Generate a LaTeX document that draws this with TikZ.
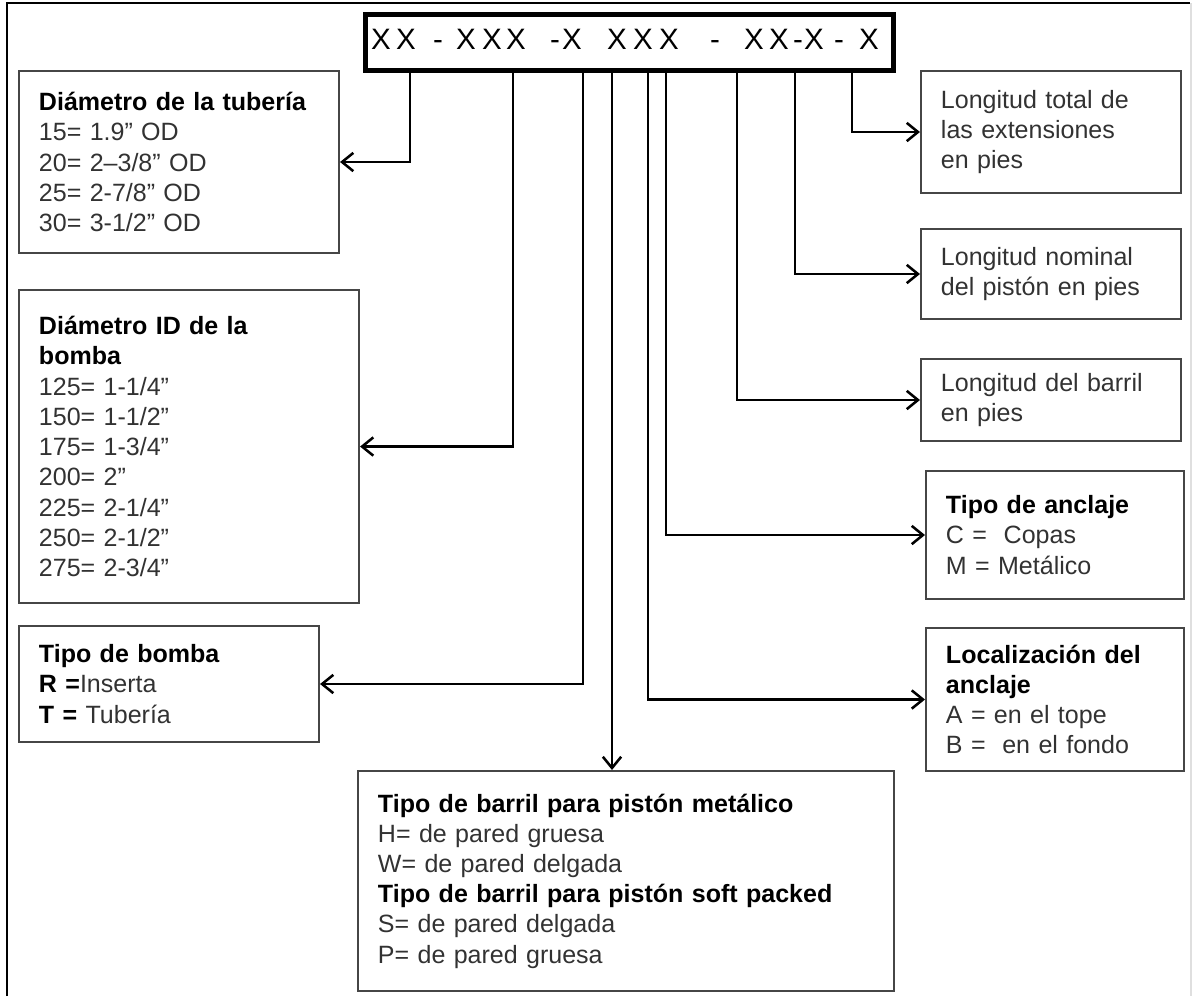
\documentclass[tikz,border=0pt]{standalone}
\usepackage{fontspec}
\setmainfont{Liberation Sans}
\usepackage{xcolor}
\definecolor{ink}{RGB}{50,50,50}
\definecolor{edge}{RGB}{70,70,70}
\usepackage{tikz}
\usetikzlibrary{arrows.meta,positioning,calc}
\newcommand{\head}[1]{\textcolor{black}{\bfseries #1}}

\begin{document}
\begin{tikzpicture}[x=0.025cm, y=-0.025cm,
        panel/.style={rectangle, draw=edge, line width=1.4pt, anchor=north west, align=left, inner xsep=0.5cm, inner ysep=0pt, text=ink, font=\fontsize{17.8}{21.5}\selectfont},
        codebox/.style={rectangle, draw=black, line width=3.2pt, minimum width=13.2cm, minimum height=1.4cm, anchor=north west},
        glyph/.style={inner sep=0pt, anchor=base, font=\fontsize{21}{24}\selectfont},
        link/.style={line width=1.8pt, -{Straight Barb[length=8pt,width=13pt,line width=1.8pt]}}
    ]
        \useasboundingbox (0,0) rectangle (1192,996);
        \draw[line width=1.2pt] (7,996) -- (7,3) -- (1190,3);
        \draw[gray!25, line width=1pt] (1191,3) -- (1191,996);

        % the code
        \node[codebox] (code) at (363,12) {};
        \foreach \x/\c in {381/X, 406/X, 438/-, 466/X, 492/X, 516/X, 555/-, 572/X, 617/X, 643/X, 669/X, 715/-, 754/X, 779/X, 798/-, 814/X, 839/-, 869/X}
            \node[glyph] at (\x,49) {\c};

        % left side
        \node[panel, minimum width=8cm, minimum height=4.55cm, text width=7cm] (tuberia) at (18,70)
            {\head{Diámetro de la tubería}\\15= 1.9" OD\\20= 2--3/8" OD\\25= 2-7/8" OD\\30= 3-1/2" OD};
        \node[panel, minimum width=8.5cm, minimum height=7.825cm, text width=7.5cm] (bomba) at (18,289)
            {\head{Diámetro ID de la}\\\head{bomba}\\125= 1-1/4"\\150= 1-1/2"\\175= 1-3/4"\\200= 2"\\225= 2-1/4"\\250= 2-1/2"\\275= 2-3/4"};
        \node[panel, minimum width=7.5cm, minimum height=2.9cm, text width=6.5cm] (tipobomba) at (18,625)
            {\head{Tipo de bomba}\\\head{R =}Inserta\\\head{T =} Tubería};

        % bottom
        \node[panel, minimum width=13.4cm, minimum height=5.5cm, text width=12.4cm] (barril) at (357,770)
            {\head{Tipo de barril para pistón metálico}\\H= de pared gruesa\\W= de pared delgada\\\head{Tipo de barril para pistón soft packed}\\S= de pared delgada\\P= de pared gruesa};

        % right side
        \node[panel, minimum width=6.5cm, minimum height=3.05cm, text width=5.5cm] (longext) at (920,70)
            {Longitud total de\\las extensiones\\en pies};
        \node[panel, minimum width=6.5cm, minimum height=2.25cm, text width=5.5cm] (longpiston) at (920,228)
            {Longitud nominal\\del pistón en pies};
        \node[panel, minimum width=6.5cm, minimum height=2.05cm, text width=5.5cm] (longbarril) at (920,358)
            {Longitud del barril\\en pies};
        \node[panel, minimum width=6.45cm, minimum height=3.2cm, text width=5.45cm] (anclaje) at (925,470)
            {\head{Tipo de anclaje}\\C = \ Copas\\M = Metálico};
        \node[panel, minimum width=6.45cm, minimum height=3.575cm, text width=5.45cm] (localiza) at (925,627)
            {\head{Localización del}\\\head{anclaje}\\A = en el tope\\B = \ en el fondo};

        % branches under the code
        \coordinate (b1) at (410,68);
        \coordinate (b2) at (513,68);
        \coordinate (b3) at (583,68);
        \coordinate (b4) at (612,68);
        \coordinate (b5) at (648,68);
        \coordinate (b6) at (666,68);
        \coordinate (b7) at (737,68);
        \coordinate (b8) at (795,68);
        \coordinate (b9) at (852,68);

        \draw[link] (b1) |- (tuberia.east);
        \draw[link] (b2) |- (bomba.east);
        \draw[link] (b3) |- (tipobomba.east);
        \draw[link] (b4) -- (b4 |- barril.north);
        \draw[link] (b5) |- (localiza.west);
        \draw[link] (b6) |- (anclaje.west);
        \draw[link] (b7) |- (longbarril.west);
        \draw[link] (b8) |- (longpiston.west);
        \draw[link] (b9) |- (longext.west);
    \end{tikzpicture}
\end{document}
